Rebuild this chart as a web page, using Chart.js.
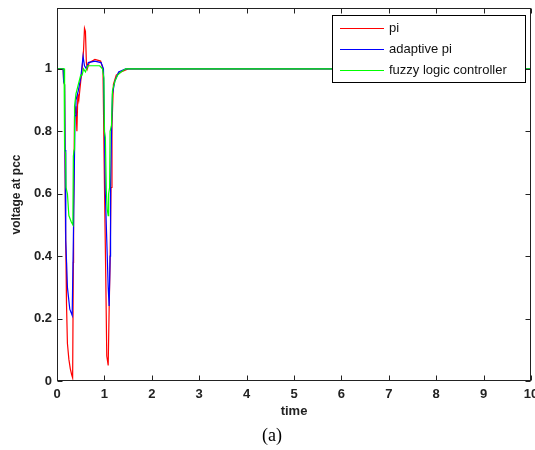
<!DOCTYPE html>
<html>
<head>
<meta charset="utf-8">
<script src="https://cdn.jsdelivr.net/npm/chart.js@4/dist/chart.umd.min.js"></script>
<style>
  html, body { margin: 0; padding: 0; background: #fff; }
</style>
</head>
<body>
<canvas id="myChart" width="535" height="450"></canvas>
<script>
// voltage at the point of common coupling for the three controllers
const seriesNames = ["pi", "adaptive pi", "fuzzy logic controller"];
const seriesColors = ["#ff0000", "#0000ff", "#00ff00"];

const piTime = [0, 0.13, 0.14, 0.16, 0.18, 0.19, 0.20, 0.22, 0.25, 0.28, 0.31, 0.33, 0.345, 0.35, 0.37, 0.40, 0.42, 0.44, 0.46, 0.50, 0.53, 0.56, 0.58, 0.60, 0.62, 0.64, 0.68, 0.80, 0.92, 0.97, 1.00, 1.03, 1.05, 1.08, 1.10, 1.12, 1.14, 1.16, 1.19, 1.25, 1.35, 1.50, 10];
const piVoltage = [1, 1, 0.96, 0.95, 0.48, 0.38, 0.25, 0.12, 0.07, 0.04, 0.02, 0.01, 0.38, 0.55, 0.85, 0.88, 0.80, 0.92, 0.90, 0.96, 1.0, 1.06, 1.13, 1.12, 1.02, 1.0, 1.02, 1.03, 1.025, 1.0, 0.64, 0.32, 0.08, 0.05, 0.23, 0.38, 0.62, 0.82, 0.95, 0.98, 0.99, 1.0, 1.0];

const adaptiveTime = [0, 0.13, 0.14, 0.16, 0.17, 0.185, 0.22, 0.27, 0.32, 0.335, 0.345, 0.36, 0.38, 0.40, 0.45, 0.50, 0.55, 0.58, 0.62, 0.66, 0.80, 0.93, 0.98, 1.00, 1.02, 1.05, 1.08, 1.10, 1.12, 1.13, 1.15, 1.17, 1.22, 1.30, 1.45, 10];
const adaptiveVoltage = [1, 1, 0.96, 0.95, 0.74, 0.45, 0.30, 0.23, 0.21, 0.21, 0.45, 0.62, 0.85, 0.90, 0.93, 0.97, 1.04, 1.01, 1.0, 1.02, 1.025, 1.02, 1.0, 0.82, 0.60, 0.45, 0.30, 0.24, 0.40, 0.62, 0.80, 0.92, 0.96, 0.99, 1.0, 1.0];

const fuzzyTime = [0, 0.15, 0.16, 0.18, 0.19, 0.22, 0.25, 0.30, 0.335, 0.345, 0.36, 0.37, 0.40, 0.45, 0.50, 0.53, 0.56, 0.60, 0.65, 0.75, 0.90, 0.96, 0.99, 1.00, 1.02, 1.04, 1.06, 1.08, 1.09, 1.11, 1.12, 1.15, 1.17, 1.22, 1.28, 1.35, 1.45, 10];
const fuzzyVoltage = [1, 1, 0.74, 0.73, 0.62, 0.60, 0.53, 0.51, 0.50, 0.72, 0.74, 0.88, 0.92, 0.95, 0.98, 0.98, 1.0, 0.99, 1.01, 1.01, 1.01, 1.0, 0.97, 0.80, 0.78, 0.61, 0.55, 0.53, 0.60, 0.62, 0.80, 0.82, 0.93, 0.96, 0.98, 0.99, 1.0, 1.0];

const xTicks = [0, 1, 2, 3, 4, 5, 6, 7, 8, 9, 10];
const yTicks = [0, 0.2, 0.4, 0.6, 0.8, 1];

function toPoints(times, values) {
    return times.map((t, i) => ({ x: t, y: values[i] }));
}

const seriesData = [
    toPoints(piTime, piVoltage),
    toPoints(adaptiveTime, adaptiveVoltage),
    toPoints(fuzzyTime, fuzzyVoltage)
];

// matlab style box with inward ticks on all four sides
const axesBox = {
    id: "axesBox",
    afterDraw(chart) {
        const { ctx, chartArea: a, scales } = chart;
        const L = Math.round(a.left) + 0.5, R = Math.round(a.right) - 0.5;
        const T = Math.round(a.top) + 0.5, B = Math.round(a.bottom) - 0.5;
        ctx.save();
        ctx.strokeStyle = "#222";
        ctx.lineWidth = 1;
        ctx.strokeRect(L, T, R - L, B - T);
        ctx.beginPath();
        xTicks.forEach(v => {
            const px = Math.round(scales.x.getPixelForValue(v)) + 0.5;
            ctx.moveTo(px, B); ctx.lineTo(px, B - 5);
            ctx.moveTo(px, T); ctx.lineTo(px, T + 5);
        });
        yTicks.forEach(v => {
            const py = Math.round(scales.y.getPixelForValue(v)) + 0.5;
            ctx.moveTo(L, py); ctx.lineTo(L + 5, py);
            ctx.moveTo(R, py); ctx.lineTo(R - 5, py);
        });
        ctx.stroke();

        // legend box in the top right corner
        const lx = 332.5, ly = 15.5, lw = 193, lh = 67;
        ctx.fillStyle = "#fff";
        ctx.fillRect(lx, ly, lw, lh);
        ctx.strokeStyle = "#000";
        ctx.strokeRect(lx, ly, lw, lh);
        ctx.font = "13px 'Liberation Sans', Arial, sans-serif";
        ctx.textBaseline = "middle";
        ctx.textAlign = "left";
        ctx.lineWidth = 1.2;
        seriesNames.forEach((name, i) => {
            const y = 28.5 + i * 21;
            ctx.strokeStyle = seriesColors[i];
            ctx.beginPath();
            ctx.moveTo(340, y);
            ctx.lineTo(384, y);
            ctx.stroke();
            ctx.fillStyle = "#111";
            ctx.fillText(name, 389, y);
        });

        // figure caption
        ctx.font = "18px 'Liberation Serif', 'Times New Roman', serif";
        ctx.textAlign = "center";
        ctx.fillStyle = "#000";
        ctx.fillText("(a)", 272, 436);
        ctx.restore();
    }
};

const config = {
    type: "line",
    data: {
        datasets: seriesData.map((pts, i) => ({
            label: seriesNames[i],
            data: pts,
            borderColor: seriesColors[i],
            borderWidth: 1.2,
            pointRadius: 0,
            fill: false,
            tension: 0,
            order: 3 - i, // later series drawn on top
        }))
    },
    options: {
        responsive: false,
        animation: false,
        devicePixelRatio: 1,
        layout: { padding: { top: 8, right: 4, left: 0, bottom: 0 } },
        scales: {
            x: {
                type: "linear",
                min: 0,
                max: 10,
                afterBuildTicks: scale => { scale.ticks = xTicks.map(v => ({ value: v })); },
                afterFit: scale => {
                    scale.height = 69;
                    scale.paddingLeft = 0;
                    scale.paddingRight = 0;
                },
                grid: { display: false, drawTicks: false },
                border: { display: false },
                ticks: {
                    padding: 6,
                    color: "#222",
                    maxRotation: 0,
                    font: { family: "'Liberation Sans', Arial, sans-serif", size: 13, weight: "bold" },
                    callback: v => String(v),
                },
                title: {
                    display: true,
                    text: "time",
                    color: "#222",
                    padding: { top: 0, bottom: 31 },
                    font: { family: "'Liberation Sans', Arial, sans-serif", size: 13, weight: "bold" },
                },
            },
            y: {
                min: 0,
                max: 1.195,
                afterBuildTicks: scale => { scale.ticks = yTicks.map(v => ({ value: v })); },
                afterFit: scale => {
                    scale.width = 57;
                    scale.paddingTop = 0;
                    scale.paddingBottom = 0;
                },
                grid: { display: false, drawTicks: false },
                border: { display: false },
                ticks: {
                    padding: 5,
                    color: "#222",
                    font: { family: "'Liberation Sans', Arial, sans-serif", size: 13, weight: "bold" },
                    callback: v => String(Math.round(v * 10) / 10),
                },
                title: {
                    display: true,
                    text: "voltage at pcc",
                    color: "#222",
                    padding: { top: 9, bottom: 0 },
                    font: { family: "'Liberation Sans', Arial, sans-serif", size: 12, weight: "bold" },
                },
            },
        },
        plugins: {
            legend: { display: false },
            tooltip: { enabled: false },
        },
    },
    plugins: [axesBox],
};

new Chart("myChart", config);
</script>
</body>
</html>
